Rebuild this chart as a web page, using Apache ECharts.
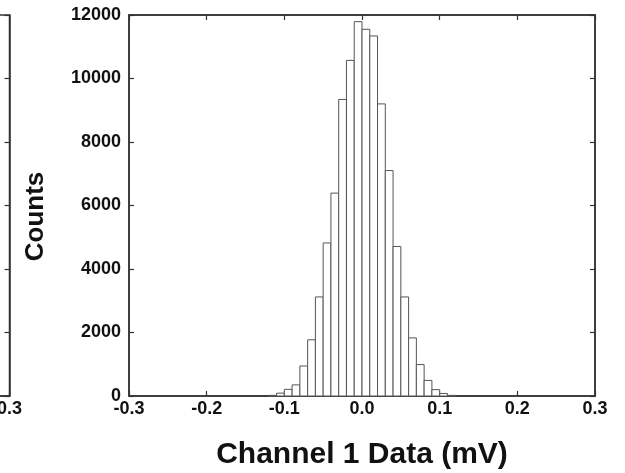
<!DOCTYPE html>
<html>
<head>
<meta charset="utf-8">
<script src="https://cdn.jsdelivr.net/npm/echarts@6/dist/echarts.min.js"></script>
<style>
  html, body { margin: 0; padding: 0; background: #fff; }
  #chart { width: 625px; height: 473px; }
</style>
</head>
<body>
<div id="chart"></div>
<script>
// Histogram bins (mV): lower edges, upper edges and counts
const binLo = [-0.12, -0.11, -0.10, -0.09, -0.08, -0.07, -0.06, -0.05, -0.04, -0.03, -0.02, -0.01,
               0.00, 0.01, 0.02, 0.03, 0.04, 0.05, 0.06, 0.07, 0.08, 0.09, 0.10, 0.11];
const binHi = [-0.11, -0.10, -0.09, -0.08, -0.07, -0.06, -0.05, -0.04, -0.03, -0.02, -0.01, 0.00,
               0.01, 0.02, 0.03, 0.04, 0.05, 0.06, 0.07, 0.08, 0.09, 0.10, 0.11, 0.12];
const counts = [20, 90, 210, 350, 945, 1770, 3120, 4820, 6390, 9340, 10570, 11790,
                11550, 11340, 9200, 7100, 4710, 3120, 1830, 990, 490, 200, 80, 20];

const xTicks = [-0.3, -0.2, -0.1, 0.0, 0.1, 0.2, 0.3];
const yTicks = [0, 2000, 4000, 6000, 8000, 10000, 12000];
const xTitle = 'Channel 1 Data (mV)';
const yTitle = 'Counts';

const FONT = '"Liberation Sans", Arial, sans-serif';
const LINE = '#333';
const labelStyle = { color: '#111', fontFamily: FONT, fontWeight: 'bold', fontSize: 18 };

const histData = binLo.map((lo, i) => [lo, binHi[i], counts[i]]);

function xAxisDef(gridIndex, pos, showLabels, nameShown) {
  return {
    type: 'value', gridIndex, position: pos,
    min: xTicks[0], max: xTicks[xTicks.length - 1], interval: 0.1,
    axisLine: { show: true, onZero: false, lineStyle: { color: LINE, width: 1.5 } },
    axisTick: { show: true, inside: true, length: 5, lineStyle: { color: LINE, width: 1.2 } },
    splitLine: { show: false },
    axisLabel: {
      show: showLabels, margin: 4, ...labelStyle,
      showMinLabel: true, showMaxLabel: true,
      formatter: v => v.toFixed(1)
    },
    name: nameShown ? xTitle : '',
    nameLocation: 'middle', nameGap: 44,
    nameTextStyle: { color: '#111', fontFamily: FONT, fontWeight: 'bold', fontSize: 30 }
  };
}

function yAxisDef(gridIndex, pos, showLabels, nameShown) {
  return {
    type: 'value', gridIndex, position: pos,
    min: yTicks[0], max: yTicks[yTicks.length - 1], interval: 2000,
    axisLine: { show: true, onZero: false, lineStyle: { color: LINE, width: 1.5 } },
    axisTick: { show: true, inside: true, length: 5, lineStyle: { color: LINE, width: 1.2 } },
    splitLine: { show: false },
    axisLabel: {
      show: showLabels, margin: 8, ...labelStyle, verticalAlign: 'middle',
      formatter: v => String(v)
    },
    name: nameShown ? yTitle : '',
    nameLocation: 'middle', nameGap: 80,
    nameTextStyle: {
      color: '#111', fontFamily: FONT, fontWeight: 'bold', fontSize: 26,
      padding: [0, 22, 0, 0]
    }
  };
}

const chart = echarts.init(document.getElementById('chart'), null, { renderer: 'canvas' });
chart.setOption({
  animation: false,
  backgroundColor: '#fff',
  grid: [
    // neighbouring panel, only its right edge is in view
    { left: -456, right: 615.5, top: 15, bottom: 77, show: true, borderColor: LINE, borderWidth: 1.5,
      outerBoundsMode: 'none', containLabel: false },
    // main histogram panel
    { left: 129, right: 30, top: 15, bottom: 77, show: true, borderColor: LINE, borderWidth: 1.5,
      outerBoundsMode: 'none', containLabel: false }
  ],
  xAxis: [
    xAxisDef(0, 'bottom', true, false),
    xAxisDef(1, 'bottom', true, true),
    xAxisDef(1, 'top', false, false)
  ],
  yAxis: [
    yAxisDef(0, 'right', false, false),
    yAxisDef(1, 'left', true, true),
    yAxisDef(1, 'right', false, false)
  ],
  series: [{
    type: 'custom',
    xAxisIndex: 1, yAxisIndex: 1,
    data: histData,
    renderItem: function (params, api) {
      const p0 = api.coord([api.value(0), 0]);
      const p1 = api.coord([api.value(1), api.value(2)]);
      return {
        type: 'rect',
        shape: { x: p0[0], y: p1[1], width: p1[0] - p0[0], height: p0[1] - p1[1] },
        style: { fill: '#fff', stroke: '#555', lineWidth: 1 }
      };
    }
  }]
});
</script>
</body>
</html>
